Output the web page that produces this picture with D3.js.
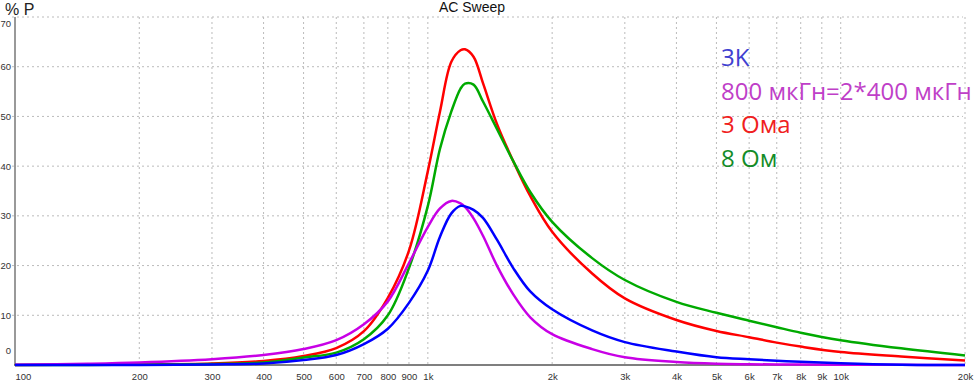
<!DOCTYPE html>
<html>
<head>
<meta charset="utf-8">
<script src="https://cdn.jsdelivr.net/npm/d3@7"></script>
<style>
  body { margin: 0; background: #fff; }
  svg { display: block; }
</style>
</head>
<body>
<div id="chart"></div>
<script>
// frequency points (Hz) shared by every series
const freqs = [100, 150, 200, 300, 400, 500, 600, 700, 800, 900, 1000, 1070, 1140, 1200, 1230, 1290, 1360, 1470, 1610, 1770, 2000, 2500, 3000, 4000, 5000, 6000, 7000, 8000, 10000, 14000, 20000]

// % P
const blue3K = [0, 0, 0.02, 0.1, 0.3, 1.0, 2.0, 4.2, 7.3, 12.5, 19, 25.8, 30.5, 32.0, 31.9, 31.2, 29.6, 25.2, 19.5, 14.8, 11.2, 6.95, 4.6, 2.7, 1.55, 1.15, 0.87, 0.65, 0.34, 0.05, 0]
const magenta800 = [0.05, 0.25, 0.5, 1.15, 2.0, 3.2, 5.0, 8.2, 12.8, 20.5, 27.8, 31.5, 33.0, 32.5, 31.8, 29.5, 26.0, 20.0, 14.2, 9.6, 6.2, 3.2, 1.55, 0.6, 0.25, 0.15, 0.1, 0.08, 0.05, 0.03, 0.02]
const red3Ohm = [0, 0.05, 0.1, 0.3, 0.8, 1.8, 3.4, 6.8, 13.5, 23, 39, 51, 61, 63.3, 63.5, 62, 56.7, 48.5, 41.0, 34.0, 26.8, 18.4, 13.4, 9.05, 6.84, 5.6, 4.5, 3.7, 2.6, 1.7, 0.9]
const green8Ohm = [0, 0.02, 0.05, 0.2, 0.5, 1.5, 2.5, 5.2, 10, 19.5, 32, 43.5, 51.0, 55.6, 56.6, 56.4, 53, 47.5, 41.0, 34.8, 28.8, 21.5, 17.1, 12.7, 10.5, 8.9, 7.6, 6.5, 5.0, 3.35, 1.9]

const xTicks = [100, 200, 300, 400, 500, 600, 700, 800, 900, 1000, 2000, 3000, 4000, 5000, 6000, 7000, 8000, 9000, 10000, 20000]
const xLabels = ['100', '200', '300', '400', '500', '600', '700', '800', '900', '1k', '2k', '3k', '4k', '5k', '6k', '7k', '8k', '9k', '10k', '20k']
const yTicks = [0, 10, 20, 30, 40, 50, 60, 70]

const legendNames = ['3K', '800 мкГн=2*400 мкГн', '3 Ома', '8 Ом']
const legendColors = ['#4040d0', '#bf3fc8', '#f02020', '#148c28']

const w = 974
const h = 384

const xScale = d3.scaleLog()
                .domain([100, 20000])
                .range([15, 965])

const yScale = d3.scaleLinear()
                .domain([0, 70])
                .range([365, 17])

const svg = d3.select('#chart')
            .append('svg')
            .attr('width', w)
            .attr('height', h)

// grid
svg.append('g')
    .selectAll('line')
    .data(yTicks.filter(d => d > 0))
    .enter()
    .append('line')
    .attr('x1', 12)
    .attr('x2', 963)
    .attr('y1', d => yScale(d))
    .attr('y2', d => yScale(d))
    .attr('stroke', '#bbb')
    .attr('stroke-dasharray', '2,3')

svg.append('g')
    .selectAll('line')
    .data(xTicks.filter(d => d > 100))
    .enter()
    .append('line')
    .attr('x1', d => xScale(d))
    .attr('x2', d => xScale(d))
    .attr('y1', yScale(70))
    .attr('y2', yScale(0))
    .attr('stroke', '#bbb')
    .attr('stroke-dasharray', '2,3')

// axes
const xAxis = d3.axisBottom(xScale)
                .tickValues(xTicks)
                .tickFormat((d, i) => xLabels[i])
                .tickSize(0)
                .tickPadding(8)

const gx = svg.append('g')
    .attr('transform', `translate(0, ${yScale(0)})`)
    .call(xAxis)
gx.select('.domain').remove()
gx.selectAll('text')
    .attr('font-family', 'Liberation Sans, Arial, sans-serif')
    .attr('font-size', 9.5)
    .attr('fill', '#333')
gx.selectAll('.tick').filter(d => d === 100).select('text').attr('text-anchor', 'start')

const yAxis = d3.axisLeft(yScale)
                .tickValues(yTicks)
                .tickSize(0)
                .tickPadding(4)

const gy = svg.append('g')
    .attr('transform', `translate(15, 0)`)
    .call(yAxis)
gy.select('.domain').remove()
gy.selectAll('text')
    .attr('font-family', 'Liberation Sans, Arial, sans-serif')
    .attr('font-size', 9.5)
    .attr('fill', '#333')
gy.selectAll('.tick').filter(d => d === 70).select('text').attr('dy', '0.95em')
gy.selectAll('.tick').filter(d => d === 0).select('text').attr('dy', '-1.2em')

svg.append('line')
    .attr('x1', 15).attr('x2', 15)
    .attr('y1', yScale(70)).attr('y2', yScale(0))
    .attr('stroke', '#999')
    .attr('stroke-width', 2)

svg.append('line')
    .attr('x1', 14).attr('x2', 963)
    .attr('y1', yScale(0)).attr('y2', yScale(0))
    .attr('stroke', '#555')
    .attr('stroke-width', 1.5)

// curves
const series = [
  { vals: red3Ohm, color: '#ff0000' },
  { vals: green8Ohm, color: '#00aa00' },
  { vals: magenta800, color: '#c800e6' },
  { vals: blue3K, color: '#0000ff' }
]

const line = d3.line()
              .x((d, i) => xScale(freqs[i]))
              .y(d => yScale(d))
              .curve(d3.curveCatmullRom.alpha(0.5))

svg.append('g')
    .selectAll('path')
    .data(series)
    .enter()
    .append('path')
    .attr('d', d => line(d.vals))
    .attr('fill', 'none')
    .attr('stroke', d => d.color)
    .attr('stroke-width', 2.5)

// titles
svg.append('text')
    .attr('x', 472)
    .attr('y', 12)
    .attr('text-anchor', 'middle')
    .attr('font-family', 'Liberation Sans, Arial, sans-serif')
    .attr('font-size', 14)
    .attr('fill', '#111')
    .text('AC Sweep')

svg.append('text')
    .attr('x', 5)
    .attr('y', 15)
    .attr('font-family', 'Liberation Sans, Arial, sans-serif')
    .attr('font-size', 16)
    .attr('fill', '#222')
    .text('% P')

// legend
svg.append('g')
    .selectAll('text')
    .data(legendNames)
    .enter()
    .append('text')
    .attr('x', 721)
    .attr('y', (d, i) => 66 + i * 33.5)
    .attr('font-family', 'Open Sans, sans-serif')
    .attr('font-size', 24)
    .attr('fill', (d, i) => legendColors[i])
    .text(d => d)
</script>
</body>
</html>
